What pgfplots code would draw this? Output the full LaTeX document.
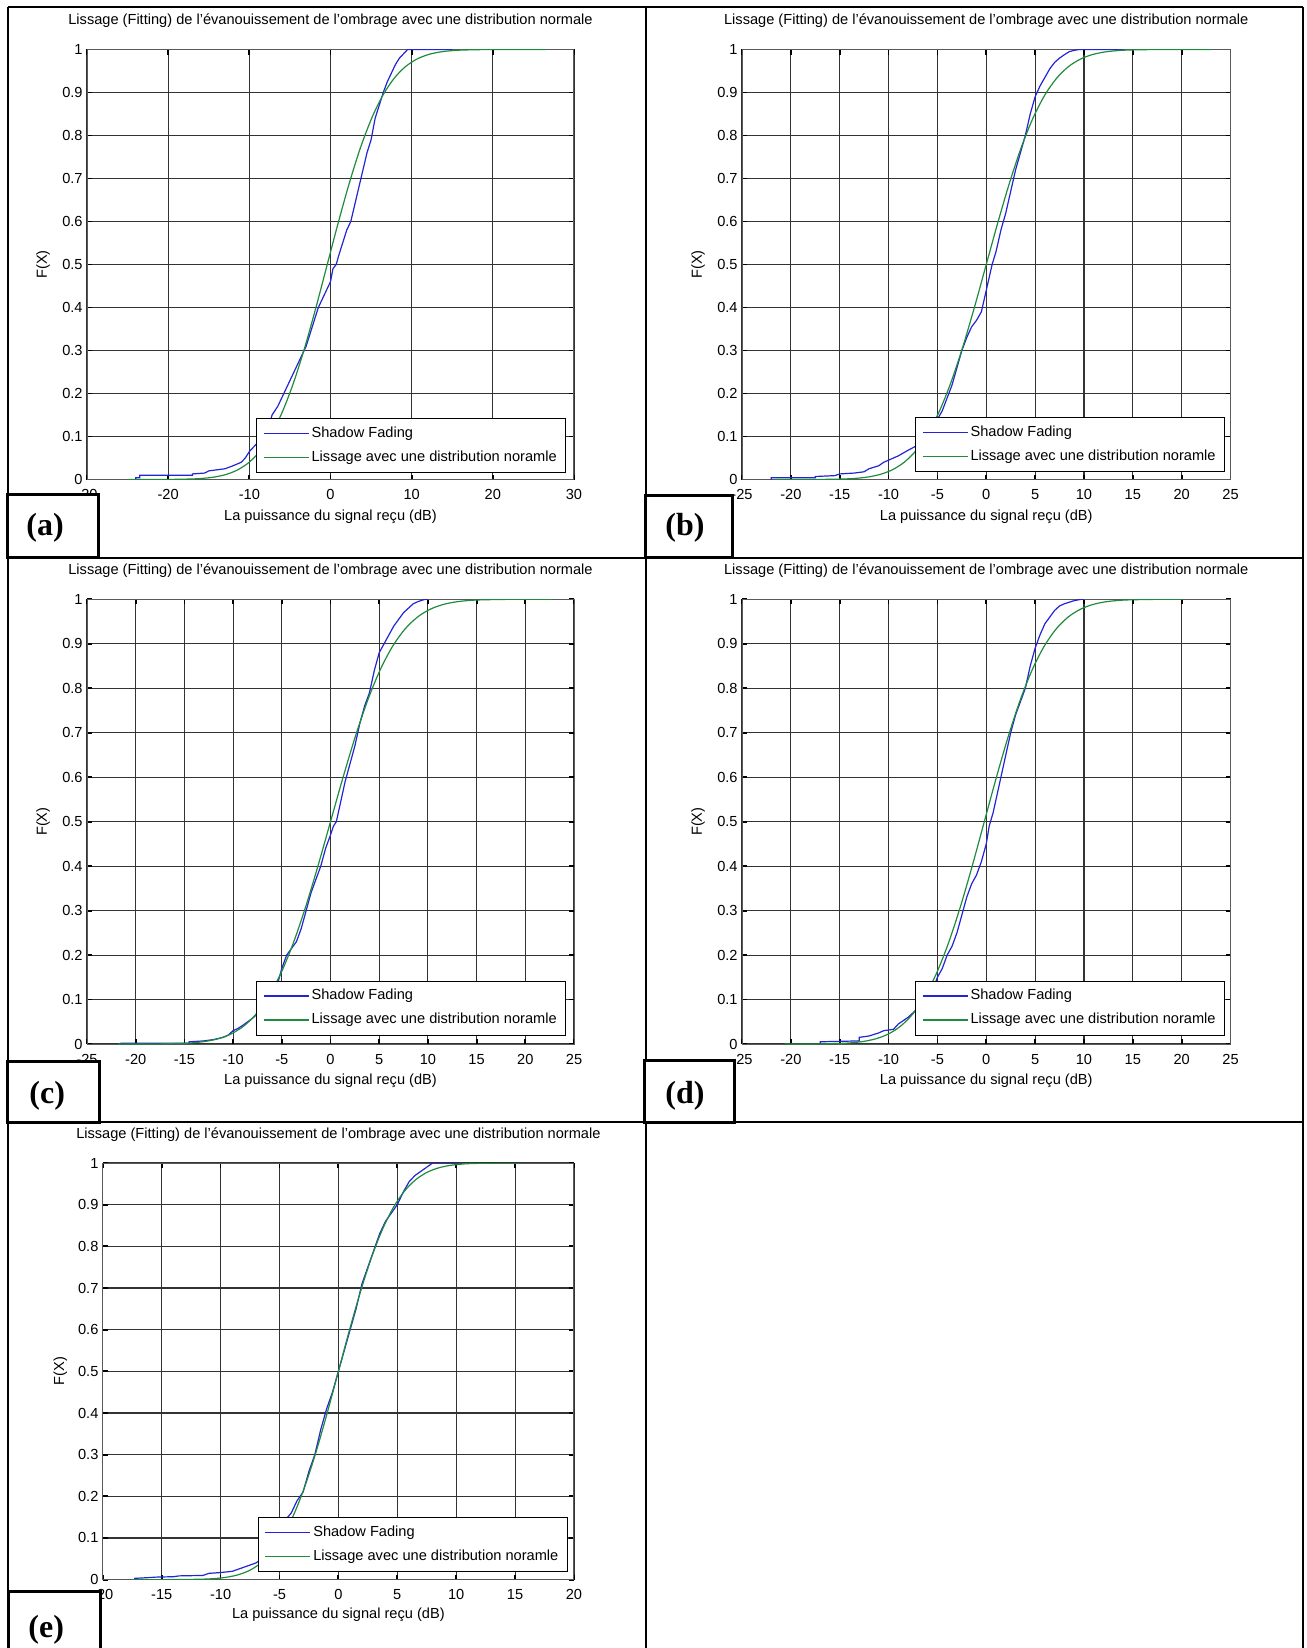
\documentclass[border=0pt]{standalone}
\usepackage{pgfplots}
\pgfplotsset{compat=1.18}
\usepackage{fontspec}
\setmainfont{Liberation Sans}
\newfontfamily\tnr{Liberation Serif}
\definecolor{mblue}{RGB}{35,35,215}
\definecolor{mgreen}{RGB}{30,140,60}
\newcommand{\sz}{\fontsize{7.3}{8.5}\selectfont}
\pgfplotsset{
  mfig/.style={
    scale only axis,
    anchor=south west,
    ymin=0, ymax=1,
    ytick={0,0.1,0.2,0.3,0.4,0.5,0.6,0.7,0.8,0.9,1},
    yticklabels={0,0.1,0.2,0.3,0.4,0.5,0.6,0.7,0.8,0.9,1},
    grid=major,
    major grid style={black!80, line width=0.55pt},
    axis line style={black!65, line width=0.5pt},
    tick align=inside,
    major tick length=2.5pt,
    every tick/.style={black, line width=0.9pt},
    tick label style={font=\sz},
    xticklabel style={anchor=base, yshift=-10pt},
    yticklabel style={inner sep=2pt},
    title style={font=\sz, at={(axis description cs:0.5,1)}, anchor=base, yshift=6.5pt},
    title={Lissage (Fitting) de l'évanouissement de l'ombrage avec une distribution normale},
    xlabel={La puissance du signal reçu (dB)},
    ylabel={F(X)},
    xlabel style={font=\sz, at={(axis description cs:0.5,0)}, anchor=center, yshift=-18.5pt},
    ylabel style={font=\sz, at={(axis description cs:-0.09,0.5)}, anchor=center},
    legend cell align=left,
    legend image code/.code={\draw[#1] (0pt,0pt) -- (22.5pt,0pt);},
    legend style={anchor=south east, draw=black, line width=0.5pt, fill=white, font=\sz,
      inner xsep=3.3pt, inner ysep=2.9pt, row sep=2.8pt, nodes={inner sep=1.2pt}},
  },
  bl/.style={color=mblue, line width=0.6pt},
  gr/.style={color=mgreen, line width=0.6pt, smooth},
}
\begin{document}
\begin{tikzpicture}
% ---------------- (a)
\begin{axis}[mfig, at={(43.5pt,-239.75pt)}, width=243.5pt, height=215pt,
  xmin=-30, xmax=30, xtick={-30,-20,-10,0,10,20,30},
  xticklabels={-30,-20,-10,0,10,20,30},
  legend style={at={(0.984,0.015)}}]
\addplot[bl] coordinates {(-24,0) (-24,0.004) (-23.5,0.004) (-23.5,0.01) (-17,0.01) (-17,0.013) (-15.5,0.015) (-15,0.02) (-13,0.025) (-12,0.032) (-11,0.04) (-10.5,0.05) (-10,0.065) (-9.5,0.075) (-9,0.085) (-8.5,0.095) (-8,0.11) (-7.5,0.13) (-7.2,0.15) (-6.5,0.17) (-6,0.19) (-5.5,0.21) (-5,0.23) (-4.5,0.25) (-4,0.27) (-3.5,0.29) (-3,0.31) (-2.5,0.34) (-2,0.37) (-1.5,0.40) (-1,0.42) (-0.5,0.44) (0,0.46) (0.3,0.49) (0.7,0.5) (1,0.52) (1.5,0.55) (2,0.58) (2.5,0.60) (3,0.64) (3.5,0.68) (4,0.72) (4.5,0.76) (5,0.79) (5.5,0.84) (6,0.87) (6.5,0.9) (7,0.925) (7.5,0.945) (8,0.965) (8.5,0.98) (9,0.99) (9.5,1) (15,1)};
\addlegendentry{Shadow Fading}
\addplot[gr] coordinates {(-25,0) (-22.4,0.00003) (-19.65,0.00023) (-16.9,0.00135) (-15.525,0.00298) (-14.15,0.00621) (-12.775,0.01222) (-11.4,0.02275) (-10.025,0.04006) (-8.65,0.06681) (-7.275,0.10565) (-5.9,0.15866) (-4.525,0.22663) (-3.15,0.30854) (-1.775,0.40129) (-0.4,0.5) (0.975,0.59871) (2.35,0.69146) (3.725,0.77337) (5.1,0.84134) (6.475,0.89435) (7.85,0.93319) (9.225,0.95994) (10.6,0.97725) (11.975,0.98778) (13.35,0.99379) (14.725,0.99702) (16.1,0.99865) (18.85,0.99977) (21.6,0.99997) (26.5,1)};
\addlegendentry{Lissage avec une distribution noramle}
\end{axis}
% ---------------- (b)
\begin{axis}[mfig, at={(371pt,-239.75pt)}, width=244.25pt, height=215pt,
  xmin=-25, xmax=25, xtick={-25,-20,-15,-10,-5,0,5,10,15,20,25},
  xticklabels={-25,-20,-15,-10,-5,0,5,10,15,20,25},
  ylabel style={at={(axis description cs:-0.09,0.5)}},
  legend style={at={(0.989,0.017)}}]
\addplot[bl] coordinates {(-22,0) (-22,0.004) (-17.5,0.004) (-17.5,0.007) (-15.5,0.009) (-15,0.013) (-13.5,0.015) (-12.5,0.018) (-12,0.025) (-11,0.032) (-10.5,0.04) (-10,0.045) (-9,0.055) (-8,0.068) (-7,0.08) (-6.5,0.09) (-6,0.1) (-5.5,0.12) (-5,0.14) (-4.5,0.16) (-4,0.19) (-3.5,0.22) (-3,0.26) (-2.5,0.3) (-2,0.33) (-1.5,0.355) (-1,0.37) (-0.5,0.39) (-0.2,0.42) (0,0.44) (0.3,0.47) (0.6,0.5) (1,0.53) (1.5,0.58) (2,0.62) (2.5,0.67) (3,0.72) (3.5,0.76) (4,0.8) (4.5,0.85) (5,0.89) (5.5,0.915) (6,0.935) (6.5,0.955) (7,0.97) (7.5,0.98) (8,0.988) (8.5,0.995) (9,0.998) (9.5,1) (14,1)};
\addlegendentry{Shadow Fading}
\addplot[gr] coordinates {(-21.7,0) (-19.2,0.00003) (-16.8,0.00023) (-14.4,0.00135) (-13.2,0.00298) (-12,0.00621) (-10.8,0.01222) (-9.6,0.02275) (-8.4,0.04006) (-7.2,0.06681) (-6,0.10565) (-4.8,0.15866) (-3.6,0.22663) (-2.4,0.30854) (-1.2,0.40129) (0,0.5) (1.2,0.59871) (2.4,0.69146) (3.6,0.77337) (4.8,0.84134) (6,0.89435) (7.2,0.93319) (8.4,0.95994) (9.6,0.97725) (10.8,0.98778) (12,0.99379) (13.2,0.99702) (14.4,0.99865) (16.8,0.99977) (19.2,0.99997) (23,1)};
\addlegendentry{Lissage avec une distribution noramle}
\end{axis}
% ---------------- (c)
\begin{axis}[mfig, at={(43.5pt,-522pt)}, width=243.5pt, height=222.35pt,
  xmin=-25, xmax=25, xtick={-25,-20,-15,-10,-5,0,5,10,15,20,25},
  xticklabels={-25,-20,-15,-10,-5,0,5,10,15,20,25},
  legend style={at={(0.984,0.019)}}]
\addplot[bl] coordinates {(-21.5,0) (-21.5,0.002) (-14.5,0.002) (-14.5,0.005) (-13,0.007) (-12,0.01) (-11,0.015) (-10.5,0.02) (-10,0.03) (-9.5,0.035) (-9,0.042) (-8.5,0.05) (-8,0.058) (-7.5,0.068) (-7,0.078) (-6.5,0.09) (-6,0.1) (-5.5,0.13) (-5,0.17) (-4.5,0.2) (-4,0.215) (-3.5,0.23) (-3,0.26) (-2.5,0.3) (-2,0.34) (-1.5,0.37) (-1,0.4) (-0.5,0.44) (0,0.47) (0.3,0.49) (0.6,0.5) (1,0.54) (1.5,0.59) (2,0.63) (2.5,0.67) (3,0.72) (3.5,0.76) (4,0.79) (4.5,0.84) (5,0.88) (5.5,0.9) (6,0.92) (6.5,0.94) (7,0.955) (7.5,0.97) (8,0.98) (8.5,0.99) (9,0.995) (9.7,1) (10,1)};
\addlegendentry{Shadow Fading}
\addplot[gr] coordinates {(-21.8,0) (-20.4,0.00003) (-17.85,0.00023) (-15.3,0.00135) (-14.025,0.00298) (-12.75,0.00621) (-11.475,0.01222) (-10.2,0.02275) (-8.925,0.04006) (-7.65,0.06681) (-6.375,0.10565) (-5.1,0.15866) (-3.825,0.22663) (-2.55,0.30854) (-1.275,0.40129) (0,0.5) (1.275,0.59871) (2.55,0.69146) (3.825,0.77337) (5.1,0.84134) (6.375,0.89435) (7.65,0.93319) (8.925,0.95994) (10.2,0.97725) (11.475,0.98778) (12.75,0.99379) (14.025,0.99702) (15.3,0.99865) (17.85,0.99977) (20.4,0.99997) (22.7,1)};
\addlegendentry{Lissage avec une distribution noramle}
\end{axis}
% ---------------- (d)
\begin{axis}[mfig, at={(371pt,-522pt)}, width=244.25pt, height=222.35pt,
  xmin=-25, xmax=25, xtick={-25,-20,-15,-10,-5,0,5,10,15,20,25},
  xticklabels={-25,-20,-15,-10,-5,0,5,10,15,20,25},
  ylabel style={at={(axis description cs:-0.09,0.5)}},
  legend style={at={(0.989,0.019)}}]
\addplot[bl] coordinates {(-17,0) (-17,0.005) (-13,0.007) (-13,0.015) (-12,0.018) (-11,0.025) (-10.5,0.03) (-9.5,0.033) (-9,0.045) (-8,0.06) (-7,0.08) (-6,0.1) (-5.5,0.12) (-5,0.15) (-4.5,0.17) (-4,0.2) (-3.5,0.22) (-3,0.25) (-2.5,0.29) (-2,0.33) (-1.5,0.36) (-1,0.38) (-0.5,0.41) (0,0.45) (0.3,0.49) (0.7,0.52) (1,0.55) (1.5,0.6) (2,0.65) (2.5,0.7) (3,0.74) (3.5,0.77) (4,0.8) (4.5,0.85) (5,0.89) (5.5,0.92) (6,0.945) (6.5,0.96) (7,0.975) (7.5,0.985) (8,0.99) (9,0.997) (9.7,1) (10,1)};
\addlegendentry{Shadow Fading}
\addplot[gr] coordinates {(-20.6,0) (-19.8,0.00003) (-17.35,0.00023) (-14.9,0.00135) (-13.675,0.00298) (-12.45,0.00621) (-11.225,0.01222) (-10,0.02275) (-8.775,0.04006) (-7.55,0.06681) (-6.325,0.10565) (-5.1,0.15866) (-3.875,0.22663) (-2.65,0.30854) (-1.425,0.40129) (-0.2,0.5) (1.025,0.59871) (2.25,0.69146) (3.475,0.77337) (4.7,0.84134) (5.925,0.89435) (7.15,0.93319) (8.375,0.95994) (9.6,0.97725) (10.825,0.98778) (12.05,0.99379) (13.275,0.99702) (14.5,0.99865) (16.95,0.99977) (19.4,0.99997) (20,1)};
\addlegendentry{Lissage avec une distribution noramle}
\end{axis}
% ---------------- (e)
\begin{axis}[mfig, at={(51.4pt,-789.8pt)}, width=235.6pt, height=208.3pt,
  xmin=-20, xmax=20, xtick={-20,-15,-10,-5,0,5,10,15,20},
  xticklabels={-20,-15,-10,-5,0,5,10,15,20},
  xlabel style={yshift=0.8pt},
  legend style={at={(0.987,0.018)}}]
\addplot[bl] coordinates {(-17.3,0) (-17.3,0.003) (-16,0.005) (-15.5,0.006) (-14,0.007) (-13.5,0.009) (-11.5,0.01) (-11,0.015) (-10,0.017) (-9,0.02) (-8.5,0.025) (-8,0.03) (-7.5,0.035) (-7,0.04) (-6.5,0.05) (-6.2,0.06) (-5.5,0.062) (-5,0.08) (-4.6,0.1) (-4.3,0.15) (-4,0.16) (-3.5,0.19) (-3,0.21) (-2.5,0.26) (-2,0.3) (-1.5,0.36) (-1,0.41) (-0.5,0.45) (0,0.5) (0.5,0.55) (1,0.6) (1.5,0.65) (2,0.71) (2.5,0.75) (3,0.79) (3.5,0.83) (4,0.86) (4.5,0.88) (5,0.9) (5.5,0.93) (6,0.955) (6.5,0.97) (7,0.98) (7.5,0.99) (8,1) (10.5,1)};
\addlegendentry{Shadow Fading}
\addplot[gr] coordinates {(-17.5,0) (-15,0.00003) (-13.125,0.00023) (-11.25,0.00135) (-10.3125,0.00298) (-9.375,0.00621) (-8.4375,0.01222) (-7.5,0.02275) (-6.5625,0.04006) (-5.625,0.06681) (-4.6875,0.10565) (-3.75,0.15866) (-2.8125,0.22663) (-1.875,0.30854) (-0.9375,0.40129) (0,0.5) (0.9375,0.59871) (1.875,0.69146) (2.8125,0.77337) (3.75,0.84134) (4.6875,0.89435) (5.625,0.93319) (6.5625,0.95994) (7.5,0.97725) (8.4375,0.98778) (9.375,0.99379) (10.3125,0.99702) (11.25,0.99865) (13.125,0.99977) (15.3,1)};
\addlegendentry{Lissage avec une distribution noramle}
\end{axis}
% ---------------- table frame
\draw[line width=1pt, black] (4.15pt,-3.5pt) -- (651.25pt,-3.5pt);
\draw[line width=1pt, black] (4.15pt,-3.5pt) -- (4.15pt,-830pt);
\draw[line width=1pt, black] (651.25pt,-3.5pt) -- (651.25pt,-830pt);
\draw[line width=1pt, black] (322.75pt,-3.5pt) -- (322.75pt,-830pt);
\draw[line width=1pt, black] (4.15pt,-278.75pt) -- (651.25pt,-278.75pt);
\draw[line width=1pt, black] (4.15pt,-561pt) -- (651.25pt,-561pt);
% ---------------- label boxes
\draw[line width=1.5pt, fill=white] (3.75pt,-247.25pt) rectangle (49.3pt,-278.75pt);
\draw[line width=1.5pt, fill=white] (322.5pt,-247.8pt) rectangle (366.3pt,-278.75pt);
\draw[line width=1.5pt, fill=white] (3.75pt,-530.5pt) rectangle (49.75pt,-561pt);
\draw[line width=1.5pt, fill=white] (322pt,-530pt) rectangle (367pt,-561pt);
\draw[line width=1.5pt, fill=white] (4pt,-795.5pt) rectangle (50pt,-830pt);
\node[anchor=base west, inner sep=0pt, font=\tnr\bfseries\fontsize{16}{18}\selectfont] at (13pt,-267.5pt) {(a)};
\node[anchor=base west, inner sep=0pt, font=\tnr\bfseries\fontsize{16}{18}\selectfont] at (332.5pt,-267.5pt) {(b)};
\node[anchor=base west, inner sep=0pt, font=\tnr\bfseries\fontsize{16}{18}\selectfont] at (14.5pt,-551.5pt) {(c)};
\node[anchor=base west, inner sep=0pt, font=\tnr\bfseries\fontsize{16}{18}\selectfont] at (332.5pt,-551.5pt) {(d)};
\node[anchor=base west, inner sep=0pt, font=\tnr\bfseries\fontsize{16}{18}\selectfont] at (14pt,-818.5pt) {(e)};
\pgfresetboundingbox
\path (0pt,0pt) rectangle (653pt,-824pt);
\end{tikzpicture}
\end{document}
